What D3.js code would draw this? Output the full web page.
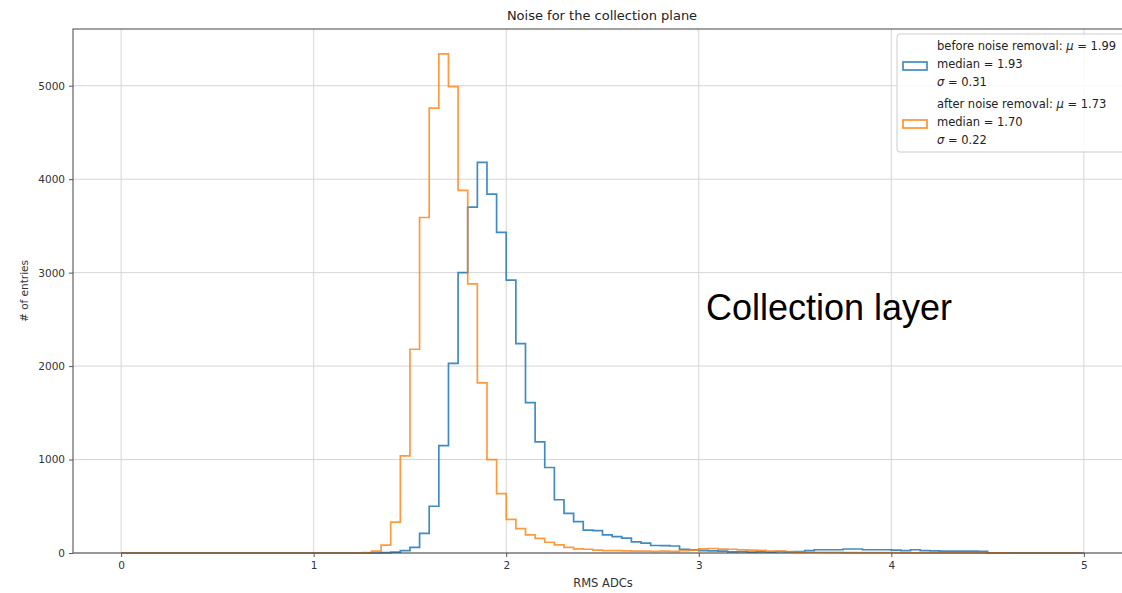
<!DOCTYPE html>
<html>
<head>
<meta charset="utf-8">
<script src="https://cdn.jsdelivr.net/npm/d3@7"></script>
<style>
  body { margin: 0; background: #fff; }
  svg { display: block; }
</style>
</head>
<body>
<div id="chart"></div>
<script>
// histogram bins: 100 bins of width 0.05 from 0 to 5
const binStart = 0;
const binWidth = 0.05;

// before noise removal (blue)
const beforeCounts = [
  0,0,0,0,0,0,0,0,0,0,
  0,0,0,0,0,0,0,0,0,0,
  0,0,0,0,0,0,0,3,10,25,
  60,210,500,1150,2030,3000,3700,4180,3840,3430,
  2920,2240,1610,1190,915,570,425,335,245,240,
  195,175,160,120,105,80,78,75,40,35,
  25,22,20,12,15,10,12,10,15,12,
  15,25,35,35,35,43,43,35,35,35,
  30,25,35,25,22,20,20,20,20,18,
  0,0,0,0,0,0,0,0,0,0
];

// after noise removal (orange)
const afterCounts = [
  0,0,0,0,0,0,0,0,0,0,
  0,0,0,0,0,0,0,0,0,0,
  0,0,0,0,0,5,20,85,330,1040,
  2180,3590,4760,5340,4990,3880,2880,1820,1000,635,
  360,260,193,157,115,86,61,45,40,30,
  25,25,22,20,20,18,20,18,25,30,
  45,48,42,40,35,30,28,20,20,15,
  10,8,8,6,6,5,5,4,4,3,
  3,2,2,2,2,1,1,1,1,1,
  1,1,0,0,0,0,0,0,0,0
];

const xTicks = [0, 1, 2, 3, 4, 5];
const yTicks = [0, 1000, 2000, 3000, 4000, 5000];

const legendLines = [
  {color: "#1f77b4", label: "before noise removal", mu: "1.99", median: "1.93", sigma: "0.31"},
  {color: "#ff7f0e", label: "after noise removal", mu: "1.73", median: "1.70", sigma: "0.22"}
];

var W = 1122, H = 593;
var margin = {top: 29, left: 73, bottom: 40};
var plotRight = 1132;

var svg = d3.select("#chart")
  .append("svg")
  .attr("width", W)
  .attr("height", H)
  .attr("font-family", "DejaVu Sans");

const x = d3.scaleLinear()
  .domain([-0.25, 5.25])
  .range([margin.left, plotRight]);

const yMax = d3.max(afterCounts.concat(beforeCounts)) * 1.05;
const y = d3.scaleLinear()
  .domain([0, yMax])
  .range([H - margin.bottom, margin.top]);

// grid
svg.append("g")
  .selectAll("line.gx")
  .data(xTicks)
  .enter().append("line")
  .attr("x1", d => x(d)).attr("x2", d => x(d))
  .attr("y1", y(0)).attr("y2", margin.top)
  .style("stroke", "#d6d6d6")
  .style("stroke-width", 1);
svg.append("g")
  .selectAll("line.gy")
  .data(yTicks)
  .enter().append("line")
  .attr("x1", margin.left).attr("x2", plotRight)
  .attr("y1", d => y(d)).attr("y2", d => y(d))
  .style("stroke", "#d6d6d6")
  .style("stroke-width", 1);

// axes
var xAxis = svg.append("g")
  .attr("transform", "translate(0," + y(0) + ")")
  .call(d3.axisBottom(x).tickValues(xTicks).tickSize(4).tickPadding(5).tickFormat(d3.format("d")));
var yAxis = svg.append("g")
  .attr("transform", "translate(" + margin.left + ",0)")
  .call(d3.axisLeft(y).tickValues(yTicks).tickSize(4).tickPadding(4).tickFormat(d3.format("d")));
[xAxis, yAxis].forEach(function(a){
  a.select(".domain").remove();
  a.selectAll("text").attr("font-family", "DejaVu Sans").attr("font-size", "10.5px").attr("fill", "#333");
  a.selectAll("line").style("stroke", "#555");
});

// histogram steps
function stepPoints(counts){
  var pts = [[x(binStart), y(0)]];
  counts.forEach(function(c, i){
    pts.push([x(binStart + i * binWidth), y(c)]);
    pts.push([x(binStart + (i + 1) * binWidth), y(c)]);
  });
  pts.push([x(binStart + counts.length * binWidth), y(0)]);
  return pts;
}
var line = d3.line();

svg.append("path")
  .attr("d", line(stepPoints(beforeCounts)))
  .style("fill", "none")
  .style("stroke", legendLines[0].color)
  .style("stroke-opacity", 0.85)
  .style("stroke-width", 1.7);
svg.append("path")
  .attr("d", line(stepPoints(afterCounts)))
  .style("fill", "none")
  .style("stroke", legendLines[1].color)
  .style("stroke-opacity", 0.8)
  .style("stroke-width", 1.7);

// spines
svg.append("rect")
  .attr("x", margin.left)
  .attr("y", margin.top)
  .attr("width", plotRight - margin.left)
  .attr("height", y(0) - margin.top)
  .style("fill", "none")
  .style("stroke", "#444")
  .style("stroke-width", 1);

// titles
svg.append("text")
  .attr("x", 602)
  .attr("y", 20)
  .attr("text-anchor", "middle")
  .attr("font-size", "13px")
  .attr("fill", "#222")
  .text("Noise for the collection plane");
svg.append("text")
  .attr("x", 603)
  .attr("y", 587)
  .attr("text-anchor", "middle")
  .attr("font-size", "11.5px")
  .attr("fill", "#333")
  .text("RMS ADCs");
svg.append("text")
  .attr("transform", "translate(28," + ((margin.top + y(0)) / 2) + ") rotate(-90)")
  .attr("text-anchor", "middle")
  .attr("font-size", "10.5px")
  .attr("fill", "#333")
  .text("# of entries");

// annotation
svg.append("text")
  .attr("x", 706)
  .attr("y", 320)
  .attr("font-family", "Liberation Sans, Arial, sans-serif")
  .attr("font-size", "36px")
  .attr("fill", "#000")
  .text("Collection layer");

// legend
var leg = svg.append("g");
leg.append("rect")
  .attr("x", 897)
  .attr("y", 34)
  .attr("width", 240)
  .attr("height", 118)
  .attr("rx", 3)
  .style("fill", "#fff")
  .style("fill-opacity", 0.85)
  .style("stroke", "#ccc")
  .style("stroke-width", 1);

legendLines.forEach(function(d, i){
  var top = 50 + i * 58;
  leg.append("rect")
    .attr("x", 903)
    .attr("y", top + 12)
    .attr("width", 24)
    .attr("height", 8)
    .style("fill", "none")
    .style("stroke", d.color)
    .style("stroke-opacity", 0.85)
    .style("stroke-width", 1.7);
  var t1 = leg.append("text")
    .attr("x", 937).attr("y", top)
    .attr("font-size", "11.5px").attr("fill", "#222");
  t1.append("tspan").text(d.label + ": ");
  t1.append("tspan").attr("font-style", "italic").text("\u03bc");
  t1.append("tspan").text(" = " + d.mu);
  leg.append("text")
    .attr("x", 937).attr("y", top + 18)
    .attr("font-size", "11.5px").attr("fill", "#222")
    .text("median = " + d.median);
  var t3 = leg.append("text")
    .attr("x", 937).attr("y", top + 35.5)
    .attr("font-size", "11.5px").attr("fill", "#222");
  t3.append("tspan").attr("font-style", "italic").text("\u03c3");
  t3.append("tspan").text(" = " + d.sigma);
});
</script>
</body>
</html>
